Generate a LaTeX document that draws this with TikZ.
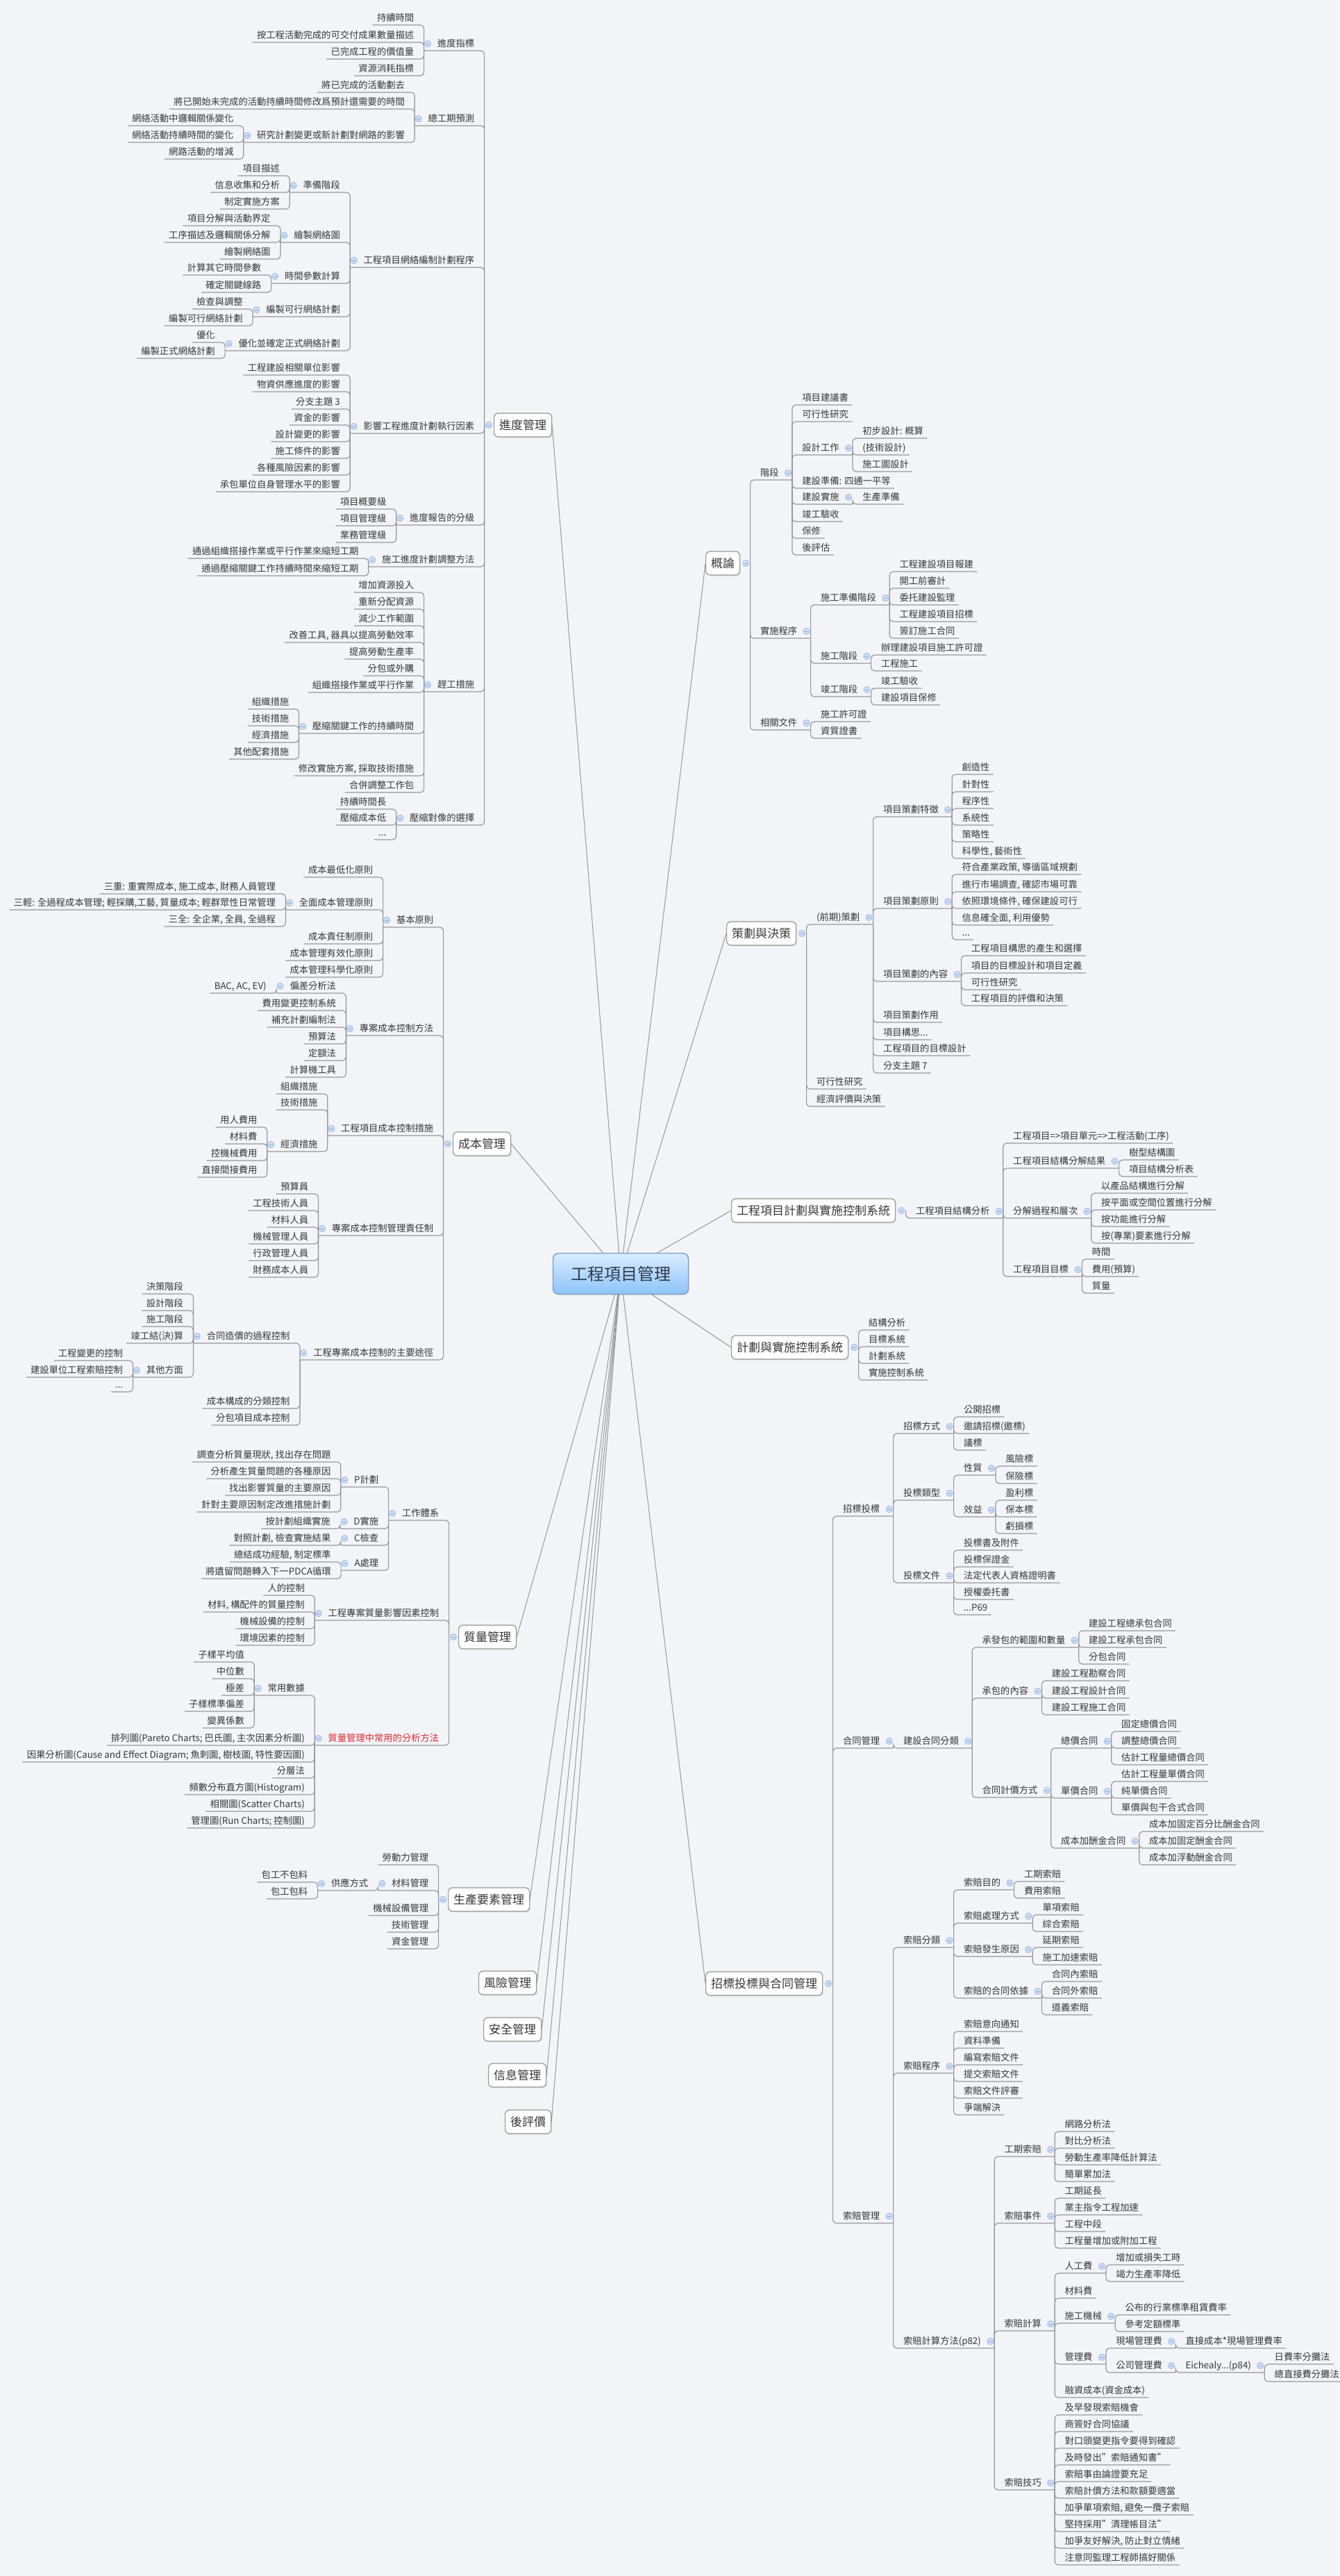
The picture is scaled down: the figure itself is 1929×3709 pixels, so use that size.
\documentclass[tikz,border=0pt]{standalone}
\usepackage{fontspec}
\setmainfont{Noto Sans CJK TC}
\usetikzlibrary{shadows}
\definecolor{bg}{RGB}{242,244,248}
\definecolor{tcol}{RGB}{55,55,55}
\definecolor{lcol}{RGB}{150,152,156}
\definecolor{cfill}{RGB}{205,222,245}
\definecolor{cline}{RGB}{140,175,225}
\definecolor{qred}{RGB}{225,40,50}
\definecolor{bbord}{RGB}{150,150,150}
\definecolor{cenA}{RGB}{218,236,255}
\definecolor{cenB}{RGB}{140,195,250}
\definecolor{cenD}{RGB}{125,155,195}
\definecolor{centxt}{RGB}{50,60,75}
\tikzset{
 tn/.style={inner xsep=0pt,inner ysep=1.3pt,text height=5.3pt,text depth=1.2pt,font=\fontsize{6.65pt}{8pt}\selectfont,text=tcol},
 conn/.style={draw=lcol,line width=0.6pt,rounded corners=2.5pt},
 pt/.style={inner sep=0pt,minimum size=0pt},
 cmk/.style={circle,fill=cfill,draw=cline,line width=0.3pt,minimum size=4.6pt,inner sep=0pt,path picture={\draw[cline,line width=0.4pt]([xshift=-1.3pt]path picture bounding box.center)--([xshift=1.3pt]path picture bounding box.center);}},
 mb/.style={draw=bbord,fill=white,rounded corners=3pt,line width=0.6pt,minimum height=17pt,inner xsep=3.75pt,inner ysep=0pt,font=\fontsize{8.5pt}{10pt}\selectfont,text=tcol,drop shadow={opacity=0.12,shadow xshift=0.8pt,shadow yshift=-0.8pt}},
 cen/.style={draw=cenD,top color=cenA,bottom color=cenB,rounded corners=4pt,line width=0.7pt,minimum width=97.5pt,minimum height=29.5pt,inner sep=0pt,font=\fontsize{12pt}{14pt}\selectfont,text=centxt,drop shadow={opacity=0.12,shadow xshift=0.8pt,shadow yshift=-0.8pt}},
 ml/.style={draw=lcol,line width=0.5pt},
}
\newcommand\lleaf[5][]{\coordinate (tmp) at (0,#4);
 \node[tn,anchor=south east,#1] (#2) at (#3.south west |- tmp) {\kern3pt #5\kern7pt};
 \draw[conn] (#3.south west) |- (#2.south west);}
\newcommand\lpar[5][]{\coordinate (tmp) at (0,#4);
 \node[tn,anchor=south east,#1] (#2) at (#3.south west |- tmp) {\kern9.5pt #5\kern7pt};
 \draw[conn] (#3.south west) |- (#2.south west);
 \node[cmk] at ([xshift=2.75pt,yshift=5pt]#2.south west) {};}
\newcommand\rleaf[5][]{\coordinate (tmp) at (0,#4);
 \node[tn,anchor=south west,#1] (#2) at (#3.south east |- tmp) {\kern7pt #5\kern2.5pt};
 \draw[conn] (#3.south east) |- (#2.south east);}
\newcommand\rpar[5][]{\coordinate (tmp) at (0,#4);
 \node[tn,anchor=south west,#1] (#2) at (#3.south east |- tmp) {\kern7pt #5\kern9.5pt};
 \draw[conn] (#3.south east) |- (#2.south east);
 \node[cmk] at ([xshift=-3pt,yshift=5pt]#2.south east) {};}
\newcommand\spineL[1]{\node[pt] (#1s) at ([xshift=-6.5pt]#1.west) {};\node[cmk] at ([xshift=-3.5pt]#1.west) {};}
\newcommand\spineR[1]{\node[pt] (#1s) at ([xshift=7pt]#1.east) {};\node[cmk] at ([xshift=4pt]#1.east) {};}
\begin{document}
\begin{tikzpicture}[x=0.5pt,y=-0.5pt]
\fill[bg] (0,0) rectangle (1929,3709);
\useasboundingbox (0,0) rectangle (1929,3709);
% center and main topics
\node[mb,anchor=west] (JD) at (711,612) {進度管理};
\node[mb,anchor=west] (CB) at (652,1647) {成本管理};
\node[mb,anchor=west] (ZL) at (660,2357) {質量管理};
\node[mb,anchor=west] (SC) at (645,2735) {生產要素管理};
\node[mb,anchor=west] (FX) at (689,2855) {風險管理};
\node[mb,anchor=west] (AQ) at (696,2922) {安全管理};
\node[mb,anchor=west] (XX) at (703,2988) {信息管理};
\node[mb,anchor=west] (HP) at (727,3055) {後評價};
\node[mb,anchor=west] (GL) at (1016,811) {概論};
\node[mb,anchor=west] (CH) at (1046,1344) {策劃與決策};
\node[mb,anchor=west] (JH) at (1053,1743) {工程項目計劃與實施控制系統};
\node[mb,anchor=west] (JS) at (1053,1940) {計劃與實施控制系統};
\node[mb,anchor=west] (ZB) at (1016,2856) {招標投標與合同管理};
\foreach \b in {JD,CB,ZL,SC,FX,AQ,XX,HP} \draw[ml] (894,1834) -- (\b.east);
\foreach \b in {GL,CH,JH,JS,ZB} \draw[ml] (894,1834) -- (\b.west);
\node[cen] (C) at (894,1834) {工程項目管理};
\spineL{JD}\spineL{CB}\spineL{ZL}\spineL{SC}
\spineR{GL}\spineR{CH}\spineR{JH}\spineR{JS}\spineR{ZB}
% ===== 進度管理 =====
\lpar{a1}{JDs}{73}{進度指標}
 \lleaf{a11}{a1}{36}{持續時間}
 \lleaf{a12}{a1}{61}{按工程活動完成的可交付成果數量描述}
 \lleaf{a13}{a1}{85}{已完成工程的價值量}
 \lleaf{a14}{a1}{109}{資源消耗指標}
\lpar{a2}{JDs}{181}{總工期預測}
 \lleaf{a21}{a2}{133}{將已完成的活動劃去}
 \lleaf{a22}{a2}{157}{將已開始未完成的活動持續時間修改爲預計還需要的時間}
 \lpar{a23}{a2}{205}{研究計劃變更或新計劃對網路的影響}
  \lleaf{a231}{a23}{181}{網絡活動中邏輯關係變化}
  \lleaf{a232}{a23}{205}{網絡活動持續時間的變化}
  \lleaf{a233}{a23}{229}{網路活動的增減}
\lpar{a3}{JDs}{385}{工程項目網絡編制計劃程序}
 \lpar{a31}{a3}{277}{準備階段}
  \lleaf{a311}{a31}{253}{項目描述}
  \lleaf{a312}{a31}{277}{信息收集和分析}
  \lleaf{a313}{a31}{301}{制定實施方案}
 \lpar{a32}{a3}{349}{繪製網絡圖}
  \lleaf{a321}{a32}{325}{項目分解與活動界定}
  \lleaf{a322}{a32}{349}{工序描述及邏輯關係分解}
  \lleaf{a323}{a32}{373}{繪製網絡圖}
 \lpar{a33}{a3}{408}{時間參數計算}
  \lleaf{a331}{a33}{396}{計算其它時間參數}
  \lleaf{a332}{a33}{421}{確定關鍵線路}
 \lpar{a34}{a3}{456}{編製可行網絡計劃}
  \lleaf{a341}{a34}{445}{檢查與調整}
  \lleaf{a342}{a34}{469}{編製可行網絡計劃}
 \lpar{a35}{a3}{505}{優化並確定正式網絡計劃}
  \lleaf{a351}{a35}{493}{優化}
  \lleaf{a352}{a35}{516}{編製正式網絡計劃}
\lpar{a4}{JDs}{624}{影響工程進度計劃執行因素}
 \lleaf{a41}{a4}{540}{工程建設相關單位影響}
 \lleaf{a42}{a4}{564}{物資供應進度的影響}
 \lleaf{a43}{a4}{589}{分支主題 3}
 \lleaf{a44}{a4}{612}{資金的影響}
 \lleaf{a45}{a4}{636}{設計變更的影響}
 \lleaf{a46}{a4}{660}{施工條件的影響}
 \lleaf{a47}{a4}{684}{各種風險因素的影響}
 \lleaf{a48}{a4}{708}{承包單位自身管理水平的影響}
\lpar{a5}{JDs}{756}{進度報告的分級}
 \lleaf{a51}{a5}{733}{項目概要級}
 \lleaf{a52}{a5}{757}{項目管理級}
 \lleaf{a53}{a5}{781}{業務管理級}
\lpar{a6}{JDs}{816}{施工進度計劃調整方法}
 \lleaf{a61}{a6}{804}{通過組織搭接作業或平行作業來縮短工期}
 \lleaf{a62}{a6}{829}{通過壓縮關鍵工作持續時間來縮短工期}
\lpar{a7}{JDs}{996}{趕工措施}
 \lleaf{a71}{a7}{853}{增加資源投入}
 \lleaf{a72}{a7}{877}{重新分配資源}
 \lleaf{a73}{a7}{901}{減少工作範圍}
 \lleaf{a74}{a7}{925}{改善工具, 器具以提高勞動效率}
 \lleaf{a75}{a7}{949}{提高勞動生產率}
 \lleaf{a76}{a7}{973}{分包或外購}
 \lleaf{a77}{a7}{997}{組織搭接作業或平行作業}
 \lpar{a78}{a7}{1056}{壓縮關鍵工作的持續時間}
  \lleaf{a781}{a78}{1021}{組織措施}
  \lleaf{a782}{a78}{1045}{技術措施}
  \lleaf{a783}{a78}{1069}{經濟措施}
  \lleaf{a784}{a78}{1093}{其他配套措施}
 \lleaf{a79}{a7}{1117}{修改實施方案, 採取技術措施}
 \lleaf{a7a}{a7}{1141}{合併調整工作包}
\lpar{a8}{JDs}{1188}{壓縮對像的選擇}
 \lleaf{a81}{a8}{1165}{持續時間長}
 \lleaf{a82}{a8}{1188}{壓縮成本低}
 \lleaf{a83}{a8}{1209}{...}
% ===== 成本管理 =====
\lpar{b1}{CBs}{1335}{基本原則}
 \lleaf{b11}{b1}{1263}{成本最低化原則}
 \lpar{b12}{b1}{1310}{全面成本管理原則}
  \lleaf{b121}{b12}{1287}{三重: 重實際成本, 施工成本, 財務人員管理}
  \lleaf{b122}{b12}{1310}{三輕: 全過程成本管理; 輕採購,工藝, 質量成本; 輕群眾性日常管理}
  \lleaf{b123}{b12}{1334}{三全: 全企業, 全員, 全過程}
 \lleaf{b13}{b1}{1359}{成本責任制原則}
 \lleaf{b14}{b1}{1383}{成本管理有效化原則}
 \lleaf{b15}{b1}{1407}{成本管理科學化原則}
\lpar{b2}{CBs}{1491}{專案成本控制方法}
 \lpar{b21}{b2}{1430}{偏差分析法}
  \lleaf{b211}{b21}{1430}{BAC, AC, EV)}
 \lleaf{b22}{b2}{1455}{費用變更控制系統}
 \lleaf{b23}{b2}{1479}{補充計劃編制法}
 \lleaf{b24}{b2}{1503}{預算法}
 \lleaf{b25}{b2}{1527}{定額法}
 \lleaf{b26}{b2}{1551}{計算機工具}
\lpar{b3}{CBs}{1635}{工程項目成本控制措施}
 \lleaf{b31}{b3}{1575}{組織措施}
 \lleaf{b32}{b3}{1598}{技術措施}
 \lpar{b33}{b3}{1658}{經濟措施}
  \lleaf{b331}{b33}{1623}{用人費用}
  \lleaf{b332}{b33}{1647}{材料費}
  \lleaf{b333}{b33}{1671}{控機械費用}
  \lleaf{b334}{b33}{1695}{直接間接費用}
\lpar{b4}{CBs}{1779}{專案成本控制管理責任制}
 \lleaf{b41}{b4}{1719}{預算員}
 \lleaf{b42}{b4}{1743}{工程技術人員}
 \lleaf{b43}{b4}{1767}{材料人員}
 \lleaf{b44}{b4}{1791}{機械管理人員}
 \lleaf{b45}{b4}{1815}{行政管理人員}
 \lleaf{b46}{b4}{1839}{財務成本人員}
\lpar{b5}{CBs}{1958}{工程專案成本控制的主要途徑}
 \lpar{b51}{b5}{1934}{合同造價的過程控制}
  \lleaf{b511}{b51}{1863}{決策階段}
  \lleaf{b512}{b51}{1887}{設計階段}
  \lleaf{b513}{b51}{1910}{施工階段}
  \lleaf{b514}{b51}{1934}{竣工結(決)算}
  \lpar{b515}{b51}{1983}{其他方面}
   \lleaf{b5151}{b515}{1959}{工程變更的控制}
   \lleaf{b5152}{b515}{1983}{建設單位工程索賠控制}
   \lleaf{b5153}{b515}{2004}{...}
 \lleaf{b52}{b5}{2028}{成本構成的分類控制}
 \lleaf{b53}{b5}{2052}{分包項目成本控制}
% ===== 質量管理 =====
\lpar{c1}{ZLs}{2189}{工作體系}
 \lpar{c11}{c1}{2141}{P計劃}
  \lleaf{c111}{c11}{2105}{調查分析質量現狀, 找出存在問題}
  \lleaf{c112}{c11}{2129}{分析產生質量問題的各種原因}
  \lleaf{c113}{c11}{2153}{找出影響質量的主要原因}
  \lleaf{c114}{c11}{2177}{針對主要原因制定改進措施計劃}
 \lpar{c12}{c1}{2201}{D實施}
  \lleaf{c121}{c12}{2201}{按計劃組織實施}
 \lpar{c13}{c1}{2225}{C檢查}
  \lleaf{c131}{c13}{2225}{對照計劃, 檢查實施結果}
 \lpar{c14}{c1}{2261}{A處理}
  \lleaf{c141}{c14}{2249}{總結成功經驗, 制定標準}
  \lleaf{c142}{c14}{2273}{將遺留問題轉入下一PDCA循環}
\lpar{c2}{ZLs}{2333}{工程專案質量影響因素控制}
 \lleaf{c21}{c2}{2297}{人的控制}
 \lleaf{c22}{c2}{2321}{材料, 構配件的質量控制}
 \lleaf{c23}{c2}{2345}{機械設備的控制}
 \lleaf{c24}{c2}{2369}{環境因素的控制}
\lpar[text=qred]{c3}{ZLs}{2513}{質量管理中常用的分析方法}
 \lpar{c31}{c3}{2441}{常用數據}
  \lleaf{c311}{c31}{2393}{子樣平均值}
  \lleaf{c312}{c31}{2417}{中位數}
  \lleaf{c313}{c31}{2441}{極差}
  \lleaf{c314}{c31}{2464}{子樣標準偏差}
  \lleaf{c315}{c31}{2488}{變異係數}
 \lleaf{c32}{c3}{2513}{排列圖(Pareto Charts; 巴氏圖, 主次因素分析圖)}
 \lleaf{c33}{c3}{2537}{因果分析圖(Cause and Effect Diagram; 魚刺圖, 樹枝圖, 特性要因圖)}
 \lleaf{c34}{c3}{2560}{分層法}
 \lleaf{c35}{c3}{2584}{頻數分布直方圖(Histogram)}
 \lleaf{c36}{c3}{2608}{相關圖(Scatter Charts)}
 \lleaf{c37}{c3}{2632}{管理圖(Run Charts; 控制圖)}
% ===== 生產要素管理 =====
\lleaf{d1}{SCs}{2685}{勞動力管理}
\lpar{d2}{SCs}{2722}{材料管理}
 \lpar{d21}{d2}{2722}{供應方式}
  \lleaf{d211}{d21}{2710}{包工不包料}
  \lleaf{d212}{d21}{2734}{包工包料}
\lleaf{d3}{SCs}{2758}{機械設備管理}
\lleaf{d4}{SCs}{2782}{技術管理}
\lleaf{d5}{SCs}{2806}{資金管理}
% ===== 概論 =====
\rpar{e1}{GLs}{691}{階段}
 \rleaf{e11}{e1}{583}{項目建議書}
 \rleaf{e12}{e1}{607}{可行性研究}
 \rpar{e13}{e1}{655}{設計工作}
  \rleaf{e131}{e13}{631}{初步設計: 概算}
  \rleaf{e132}{e13}{655}{(技術設計)}
  \rleaf{e133}{e13}{679}{施工圖設計}
 \rleaf{e14}{e1}{703}{建設準備: 四通一平等}
 \rpar{e15}{e1}{726}{建設實施}
  \rleaf{e151}{e15}{726}{生產準備}
 \rleaf{e16}{e1}{751}{竣工驗收}
 \rleaf{e17}{e1}{775}{保修}
 \rleaf{e18}{e1}{799}{後評估}
\rpar{e2}{GLs}{919}{實施程序}
 \rpar{e21}{e2}{871}{施工準備階段}
  \rleaf{e211}{e21}{823}{工程建設項目報建}
  \rleaf{e212}{e21}{847}{開工前審計}
  \rleaf{e213}{e21}{871}{委托建設監理}
  \rleaf{e214}{e21}{895}{工程建設項目招標}
  \rleaf{e215}{e21}{919}{簽訂施工合同}
 \rpar{e22}{e2}{955}{施工階段}
  \rleaf{e221}{e22}{943}{辦理建設項目施工許可證}
  \rleaf{e222}{e22}{966}{工程施工}
 \rpar{e23}{e2}{1003}{竣工階段}
  \rleaf{e231}{e23}{991}{竣工驗收}
  \rleaf{e232}{e23}{1015}{建設項目保修}
\rpar{e3}{GLs}{1051}{相關文件}
 \rleaf{e31}{e3}{1039}{施工許可證}
 \rleaf{e32}{e3}{1063}{資質證書}
% ===== 策劃與決策 =====
\rpar{f1}{CHs}{1331}{(前期)策劃}
 \rpar{f11}{f1}{1176}{項目策劃特徵}
  \rleaf{f111}{f11}{1115}{創造性}
  \rleaf{f112}{f11}{1140}{針對性}
  \rleaf{f113}{f11}{1164}{程序性}
  \rleaf{f114}{f11}{1188}{系統性}
  \rleaf{f115}{f11}{1212}{策略性}
  \rleaf{f116}{f11}{1236}{科學性, 藝術性}
 \rpar{f12}{f1}{1308}{項目策劃原則}
  \rleaf{f121}{f12}{1259}{符合產業政策, 導循區域規劃}
  \rleaf{f122}{f12}{1284}{進行市場調查, 確認市場可靠}
  \rleaf{f123}{f12}{1308}{依照環境條件, 確保建設可行}
  \rleaf{f124}{f12}{1332}{信息確全面, 利用優勢}
  \rleaf{f125}{f12}{1353}{...}
 \rpar{f13}{f1}{1413}{項目策劃的內容}
  \rleaf{f131}{f13}{1376}{工程項目構思的產生和選擇}
  \rleaf{f132}{f13}{1401}{項目的目標設計和項目定義}
  \rleaf{f133}{f13}{1425}{可行性研究}
  \rleaf{f134}{f13}{1448}{工程項目的評價和決策}
 \rleaf{f14}{f1}{1472}{項目策劃作用}
 \rleaf{f15}{f1}{1497}{項目構思...}
 \rleaf{f16}{f1}{1520}{工程項目的目標設計}
 \rleaf{f17}{f1}{1545}{分支主題 7}
\rleaf{f2}{CHs}{1568}{可行性研究}
\rleaf{f3}{CHs}{1593}{經濟評價與決策}
% ===== 工程項目計劃與實施控制系統 =====
\rpar{g1}{JHs}{1754}{工程項目結構分析}
 \rleaf{g11}{g1}{1646}{工程項目=>項目單元=>工程活動(工序)}
 \rpar{g12}{g1}{1682}{工程項目結構分解結果}
  \rleaf{g121}{g12}{1670}{樹型結構圖}
  \rleaf{g122}{g12}{1694}{項目結構分析表}
 \rpar{g13}{g1}{1754}{分解過程和層次}
  \rleaf{g131}{g13}{1718}{以產品結構進行分解}
  \rleaf{g132}{g13}{1742}{按平面或空間位置進行分解}
  \rleaf{g133}{g13}{1766}{按功能進行分解}
  \rleaf{g134}{g13}{1790}{按(專業)要素進行分解}
 \rpar{g14}{g1}{1838}{工程項目目標}
  \rleaf{g141}{g14}{1813}{時間}
  \rleaf{g142}{g14}{1838}{費用(預算)}
  \rleaf{g143}{g14}{1862}{質量}
% ===== 計劃與實施控制系統 =====
\rleaf{h1}{JSs}{1915}{結構分析}
\rleaf{h2}{JSs}{1939}{目標系統}
\rleaf{h3}{JSs}{1963}{計劃系統}
\rleaf{h4}{JSs}{1987}{實施控制系統}
% ===== 招標投標與合同管理 =====
\rpar{k1}{ZBs}{2183}{招標投標}
 \rpar{k11}{k1}{2064}{招標方式}
  \rleaf{k111}{k11}{2040}{公開招標}
  \rleaf{k112}{k11}{2064}{邀請招標(邀標)}
  \rleaf{k113}{k11}{2088}{議標}
 \rpar{k12}{k1}{2160}{投標類型}
  \rpar{k121}{k12}{2124}{性質}
   \rleaf{k1211}{k121}{2111}{風險標}
   \rleaf{k1212}{k121}{2136}{保險標}
  \rpar{k122}{k12}{2184}{效益}
   \rleaf{k1221}{k122}{2160}{盈利標}
   \rleaf{k1222}{k122}{2184}{保本標}
   \rleaf{k1223}{k122}{2208}{虧損標}
 \rpar{k13}{k1}{2279}{投標文件}
  \rleaf{k131}{k13}{2232}{投標書及附件}
  \rleaf{k132}{k13}{2256}{投標保證金}
  \rleaf{k133}{k13}{2279}{法定代表人資格證明書}
  \rleaf{k134}{k13}{2303}{授權委托書}
  \rleaf{k135}{k13}{2325}{...P69}
\rpar{k2}{ZBs}{2517}{合同管理}
 \rpar{k21}{k2}{2517}{建設合同分類}
  \rpar{k211}{k21}{2372}{承發包的範圍和數量}
   \rleaf{k2111}{k211}{2348}{建設工程總承包合同}
   \rleaf{k2112}{k211}{2372}{建設工程承包合同}
   \rleaf{k2113}{k211}{2396}{分包合同}
  \rpar{k212}{k21}{2445}{承包的內容}
   \rleaf{k2121}{k212}{2420}{建設工程勘察合同}
   \rleaf{k2122}{k212}{2445}{建設工程設計合同}
   \rleaf{k2123}{k212}{2469}{建設工程施工合同}
  \rpar{k213}{k21}{2588}{合同計價方式}
   \rpar{k2131}{k213}{2517}{總價合同}
    \rleaf{k21311}{k2131}{2493}{固定總價合同}
    \rleaf{k21312}{k2131}{2517}{調整總價合同}
    \rleaf{k21313}{k2131}{2541}{估計工程量總價合同}
   \rpar{k2132}{k213}{2589}{單價合同}
    \rleaf{k21321}{k2132}{2565}{估計工程量單價合同}
    \rleaf{k21322}{k2132}{2589}{純單價合同}
    \rleaf{k21323}{k2132}{2613}{單價與包干合式合同}
   \rpar{k2133}{k213}{2661}{成本加酬金合同}
    \rleaf{k21331}{k2133}{2637}{成本加固定百分比酬金合同}
    \rleaf{k21332}{k2133}{2661}{成本加固定酬金合同}
    \rleaf{k21333}{k2133}{2685}{成本加浮動酬金合同}
\rpar{k3}{ZBs}{3201}{索賠管理}
 \rpar{k31}{k3}{2804}{索賠分類}
  \rpar{k311}{k31}{2721}{索賠目的}
   \rleaf{k3111}{k311}{2709}{工期索賠}
   \rleaf{k3112}{k311}{2733}{費用索賠}
  \rpar{k312}{k31}{2769}{索賠處理方式}
   \rleaf{k3121}{k312}{2757}{單項索賠}
   \rleaf{k3122}{k312}{2781}{綜合索賠}
  \rpar{k313}{k31}{2817}{索賠發生原因}
   \rleaf{k3131}{k313}{2804}{延期索賠}
   \rleaf{k3132}{k313}{2829}{施工加速索賠}
  \rpar{k314}{k31}{2877}{索賠的合同依據}
   \rleaf{k3141}{k314}{2853}{合同內索賠}
   \rleaf{k3142}{k314}{2877}{合同外索賠}
   \rleaf{k3143}{k314}{2901}{道義索賠}
 \rpar{k32}{k3}{2985}{索賠程序}
  \rleaf{k321}{k32}{2925}{索賠意向通知}
  \rleaf{k322}{k32}{2949}{資料準備}
  \rleaf{k323}{k32}{2973}{編寫索賠文件}
  \rleaf{k324}{k32}{2997}{提交索賠文件}
  \rleaf{k325}{k32}{3021}{索賠文件評審}
  \rleaf{k326}{k32}{3045}{爭端解決}
 \rpar{k33}{k3}{3381}{索賠計算方法(p82)}
  \rpar{k331}{k33}{3105}{工期索賠}
   \rleaf{k3311}{k331}{3069}{網路分析法}
   \rleaf{k3312}{k331}{3093}{對比分析法}
   \rleaf{k3313}{k331}{3117}{勞動生產率降低計算法}
   \rleaf{k3314}{k331}{3141}{簡單累加法}
  \rpar{k332}{k33}{3201}{索賠事件}
   \rleaf{k3321}{k332}{3165}{工期延長}
   \rleaf{k3322}{k332}{3189}{業主指令工程加速}
   \rleaf{k3323}{k332}{3213}{工程中段}
   \rleaf{k3324}{k332}{3237}{工程量增加或附加工程}
  \rpar{k333}{k33}{3356}{索賠計算}
   \rpar{k3331}{k333}{3273}{人工費}
    \rleaf{k33311}{k3331}{3261}{增加或損失工時}
    \rleaf{k33312}{k3331}{3285}{竭力生產率降低}
   \rleaf{k3332}{k333}{3309}{材料費}
   \rpar{k3333}{k333}{3345}{施工機械}
    \rleaf{k33331}{k3333}{3333}{公布的行業標準租賃費率}
    \rleaf{k33332}{k3333}{3357}{參考定額標準}
   \rpar{k3334}{k333}{3404}{管理費}
    \rpar{m1}{k3334}{3381}{現場管理費}
     \rleaf{m11}{m1}{3381}{直接成本*現場管理費率}
    \rpar{m2}{k3334}{3416}{公司管理費}
     \rpar{m21}{m2}{3416}{Eichealy...(p84)}
      \rleaf{m211}{m21}{3404}{日費率分攤法}
      \rleaf{m212}{m21}{3429}{總直接費分攤法}
   \rleaf{k3335}{k333}{3452}{融資成本(資金成本)}
  \rpar{k334}{k33}{3585}{索賠技巧}
   \rleaf{k3341}{k334}{3477}{及早發現索賠機會}
   \rleaf{k3342}{k334}{3501}{商簽好合同協議}
   \rleaf{k3343}{k334}{3525}{對口頭變更指令要得到確認}
   \rleaf{k3344}{k334}{3549}{及時發出"索賠通知書"}
   \rleaf{k3345}{k334}{3573}{索賠事由論證要充足}
   \rleaf{k3346}{k334}{3597}{索賠計價方法和款額要適當}
   \rleaf{k3347}{k334}{3621}{加爭單項索賠, 避免一攬子索賠}
   \rleaf{k3348}{k334}{3645}{堅持採用"清理帳目法"}
   \rleaf{k3349}{k334}{3669}{加爭友好解決, 防止對立情緒}
   \rleaf{k334a}{k334}{3693}{注意同監理工程師搞好關係}
\end{tikzpicture}
\end{document}
